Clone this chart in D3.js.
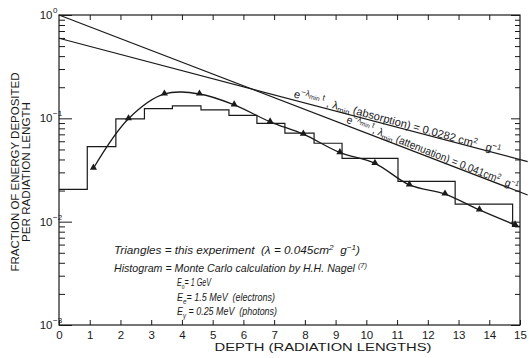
<!DOCTYPE html>
<html>
<head>
<meta charset="utf-8">
<script src="https://cdn.jsdelivr.net/npm/d3@7"></script>
<style>
  body { margin: 0; background: #fff; }
  svg { display: block; }
  text { fill: #1a1a1a; }
</style>
</head>
<body>
<svg id="chart" width="529" height="358"></svg>
<script>
// ---- axis ticks ----
const depthTicks = [0, 1, 2, 3, 4, 5, 6, 7, 8, 9, 10, 11, 12, 13, 14, 15];
const depthTickLabels = ["0", "1", "2", "3", "4", "5", "6", "7", "8", "9", "10", "11", "12", "13", "14", "15"];
const decadeValues = [1e-3, 1e-2, 1e-1, 1];
const decadeExponents = ["-3", "-2", "-1", "0"];

// ---- Monte Carlo histogram (H. H. Nagel): bin edges (radiation lengths) and fraction per bin ----
const mcBinEdges = [0, 0.92, 1.85, 2.78, 3.69, 4.62, 5.53, 6.44, 7.35, 8.30, 9.21, 10.12, 11.03, 11.98, 12.89, 13.82, 14.76, 15];
const mcFraction = [0.0205, 0.0532, 0.099, 0.124, 0.132, 0.121, 0.107, 0.0893, 0.0718, 0.0574, 0.0409, 0.0409, 0.0245, 0.0245, 0.0148, 0.0148, 0.0090];

// ---- measured points (triangles) ----
const expDepth = [1.12, 2.26, 3.43, 4.57, 5.70, 6.87, 7.95, 9.14, 10.28, 11.40, 12.56, 13.68, 14.84];
const expFraction = [0.0329, 0.099, 0.172, 0.172, 0.135, 0.0925, 0.0702, 0.0466, 0.0367, 0.0227, 0.0185, 0.0130, 0.0093];

// ---- exponential reference lines (end points) ----
const absorptionDepth = [0, 15.25];
const absorptionFraction = [0.596, 0.0381];
const attenuationDepth = [0, 15.25];
const attenuationFraction = [1.0, 0.0181];

const ink = "#1a1a1a";
const svg = d3.select("#chart");

const x = d3.scaleLinear().domain([0, 15]).range([59, 520]);
const y = d3.scaleLog().domain([1e-3, 1]).range([325, 15]);

// ---- frame ----
svg.append("rect")
  .attr("x", x(0)).attr("y", y(1))
  .attr("width", x(15) - x(0)).attr("height", y(1e-3) - y(1))
  .attr("fill", "none").attr("stroke", ink).attr("stroke-width", 1.2);

// ---- x axes: inward ticks on bottom and top ----
const bottomAxis = svg.append("g").attr("transform", `translate(0,${y(1e-3)})`)
  .call(d3.axisBottom(x).tickValues(depthTicks).tickSizeInner(-5).tickSizeOuter(0)
    .tickFormat((d, i) => depthTickLabels[i]));
bottomAxis.select(".domain").remove();
bottomAxis.selectAll("line").attr("stroke", ink).attr("stroke-width", 1);
bottomAxis.selectAll("text")
  .attr("y", 14).attr("dy", 0)
  .attr("font-family", "Liberation Sans, Arial, sans-serif")
  .attr("font-size", 11.5).attr("fill", ink);

const topAxis = svg.append("g").attr("transform", `translate(0,${y(1)})`)
  .call(d3.axisTop(x).tickValues(depthTicks.slice(1, -1)).tickSizeInner(-5).tickSizeOuter(0).tickFormat(""));
topAxis.select(".domain").remove();
topAxis.selectAll("line").attr("stroke", ink).attr("stroke-width", 1);

// ---- y axes: log decades with minor ticks, inward ----
const minorValues = [];
decadeValues.slice(0, -1).forEach(d => { for (let m = 2; m <= 9; m++) minorValues.push(d * m); });
const isMajor = v => decadeValues.some(d => Math.abs(d - v) / d < 1e-9);

const leftAxis = svg.append("g").attr("transform", `translate(${x(0)},0)`)
  .call(d3.axisLeft(y).tickValues(decadeValues.concat(minorValues)).tickSizeInner(-6).tickSizeOuter(0).tickFormat(""));
leftAxis.select(".domain").remove();
leftAxis.selectAll(".tick line")
  .attr("x2", d => isMajor(d) ? 13 : 6)
  .attr("stroke", ink).attr("stroke-width", 1);

const rightAxis = svg.append("g").attr("transform", `translate(${x(15)},0)`)
  .call(d3.axisRight(y).tickValues(decadeValues.concat(minorValues)).tickSizeInner(-5).tickSizeOuter(0).tickFormat(""));
rightAxis.select(".domain").remove();
rightAxis.selectAll(".tick line")
  .attr("x2", d => isMajor(d) ? -9 : -5)
  .attr("stroke", ink).attr("stroke-width", 1);

// decade labels 10^n
const decadeLabel = svg.append("g").attr("font-family", "Liberation Sans, Arial, sans-serif");
decadeValues.forEach((d, i) => {
  const yy = y(d) + 4;
  decadeLabel.append("text").attr("x", 52.5).attr("y", yy)
    .attr("text-anchor", "end").attr("font-size", 11.5).text("10");
  decadeLabel.append("text").attr("x", 53).attr("y", yy - 6)
    .attr("font-size", 8).text(decadeExponents[i].replace("-", "\u2212"));
});

// ---- axis titles ----
svg.append("text")
  .attr("transform", "translate(18.5,172) rotate(-90)")
  .attr("text-anchor", "middle")
  .attr("font-family", "Liberation Sans, Arial, sans-serif").attr("font-size", 11)
  .attr("textLength", 199).attr("lengthAdjust", "spacingAndGlyphs")
  .text("FRACTION OF ENERGY DEPOSITED");
svg.append("text")
  .attr("transform", "translate(29.5,172) rotate(-90)")
  .attr("text-anchor", "middle")
  .attr("font-family", "Liberation Sans, Arial, sans-serif").attr("font-size", 11)
  .attr("textLength", 140).attr("lengthAdjust", "spacingAndGlyphs")
  .text("PER RADIATION LENGTH");
svg.append("text")
  .attr("x", 323).attr("y", 351)
  .attr("text-anchor", "middle")
  .attr("font-family", "Liberation Sans, Arial, sans-serif").attr("font-size", 11)
  .attr("textLength", 217).attr("lengthAdjust", "spacingAndGlyphs")
  .text("DEPTH (RADIATION LENGTHS)");

// ---- exponential lines ----
const refLine = d3.line().x(d => x(d[0])).y(d => y(d[1]));
const absorptionPts = absorptionDepth.map((t, i) => [t, absorptionFraction[i]]);
const attenuationPts = attenuationDepth.map((t, i) => [t, attenuationFraction[i]]);
[absorptionPts, attenuationPts].forEach(pts => {
  svg.append("path").attr("d", refLine(pts))
    .attr("fill", "none").attr("stroke", ink).attr("stroke-width", 1.2);
});

// ---- Monte Carlo histogram ----
const stepPts = mcBinEdges.map((e, i) => [e, mcFraction[Math.min(i, mcFraction.length - 1)]]);
svg.append("path")
  .attr("d", d3.line().x(d => x(d[0])).y(d => y(d[1])).curve(d3.curveStepAfter)(stepPts))
  .attr("fill", "none").attr("stroke", ink).attr("stroke-width", 1.2);

// ---- smooth curve through measured points ----
const expPts = expDepth.map((t, i) => [t, expFraction[i]]);
svg.append("path")
  .attr("d", d3.line().x(d => x(d[0])).y(d => y(d[1])).curve(d3.curveCatmullRom.alpha(0.5))(expPts))
  .attr("fill", "none").attr("stroke", ink).attr("stroke-width", 1.3);

svg.append("g").selectAll("path").data(expPts).join("path")
  .attr("transform", d => `translate(${x(d[0])},${y(d[1]) - 0.5})`)
  .attr("d", d3.symbol(d3.symbolTriangle, 22))
  .attr("fill", ink);

// ---- rich text: parts = [text, shift(px, up negative), scale];
// each run is squeezed by the same horizontal factor so the line spans the given width ----
function richText(parent, x0, y0, rot, parts, size, width, italic) {
  const t = parent.append("text")
    .attr("font-family", "Liberation Sans, Arial, sans-serif")
    .attr("font-style", italic ? "italic" : "normal")
    .attr("transform", `translate(${x0},${y0}) rotate(${rot})`)
    .style("white-space", "pre");
  const runs = parts.map(([txt, shift, scale]) =>
    t.append("tspan").attr("y", shift).attr("font-size", size * scale).text(txt));
  const widths = runs.map(r => r.node().getComputedTextLength());
  const total = d3.sum(widths);
  const k = width / total;
  let cx = 0;
  runs.forEach((r, i) => {
    r.attr("x", cx).attr("textLength", widths[i] * k).attr("lengthAdjust", "spacingAndGlyphs");
    cx += widths[i] * k;
  });
  return t;
}

// labels laid along each reference line
function lineLabel(pts, t0, parts, len) {
  const [a, b] = pts;
  const p0 = [x(a[0]), y(a[1])], p1 = [x(b[0]), y(b[1])];
  const f = (t0 - a[0]) / (b[0] - a[0]);
  const px = p0[0] + (p1[0] - p0[0]) * f, py = p0[1] + (p1[1] - p0[1]) * f;
  const ang = Math.atan2(p1[1] - p0[1], p1[0] - p0[0]) * 180 / Math.PI + 0.6;
  const r = ang * Math.PI / 180;
  richText(svg, px + 2.5 * Math.sin(r), py - 2.5 * Math.cos(r), ang, parts, 11, len, false);
}

lineLabel(absorptionPts, 7.6, [
  ["e", 0, 1], ["\u2212\u03bb", -5, 0.75], ["min", -3, 0.6], [" t", -5, 0.75],
  [" , \u03bb", 0, 1], ["min", 2.5, 0.7], [" (absorption) = 0.0282 cm", 0, 1],
  ["2", -4, 0.7], ["   g", 0, 1], ["\u22121", -4, 0.7]
], 214);

lineLabel(attenuationPts, 9.3, [
  ["e", 0, 1], ["\u2212\u03bb", -5, 0.75], ["min", -3, 0.6], [" t", -5, 0.75],
  [", \u03bb", 0, 1], ["min", 2.5, 0.7], [" (attenuation) = 0.041cm", 0, 1],
  ["2", -4, 0.7], ["  g", 0, 1], ["\u22121", -4, 0.7]
], 184);

// ---- notes ----
richText(svg, 114, 254, 0, [
  ["Triangles = this experiment  (\u03bb = 0.045cm", 0, 1], ["2", -4, 0.7], ["  g", 0, 1], ["\u22121", -4, 0.7], [")", 0, 1]
], 11.5, 246, true);

richText(svg, 114, 272, 0, [
  ["Histogram = Monte Carlo calculation by H.H. Nagel ", 0, 1], ["(7)", -4, 0.7]
], 11.5, 253, true);

richText(svg, 177, 286, 0, [
  ["E", 0, 1], ["o", 2.5, 0.7], ["= 1 GeV", 0, 1]
], 11.5, 34, true);

richText(svg, 177, 301, 0, [
  ["E", 0, 1], ["e", 2.5, 0.7], ["= 1.5 MeV  (electrons)", 0, 1]
], 11.5, 98, true);

richText(svg, 177, 315, 0, [
  ["E", 0, 1], ["\u03b3", 2.5, 0.7], [" = 0.25 MeV  (photons)", 0, 1]
], 11.5, 100, true);
</script>
</body>
</html>
